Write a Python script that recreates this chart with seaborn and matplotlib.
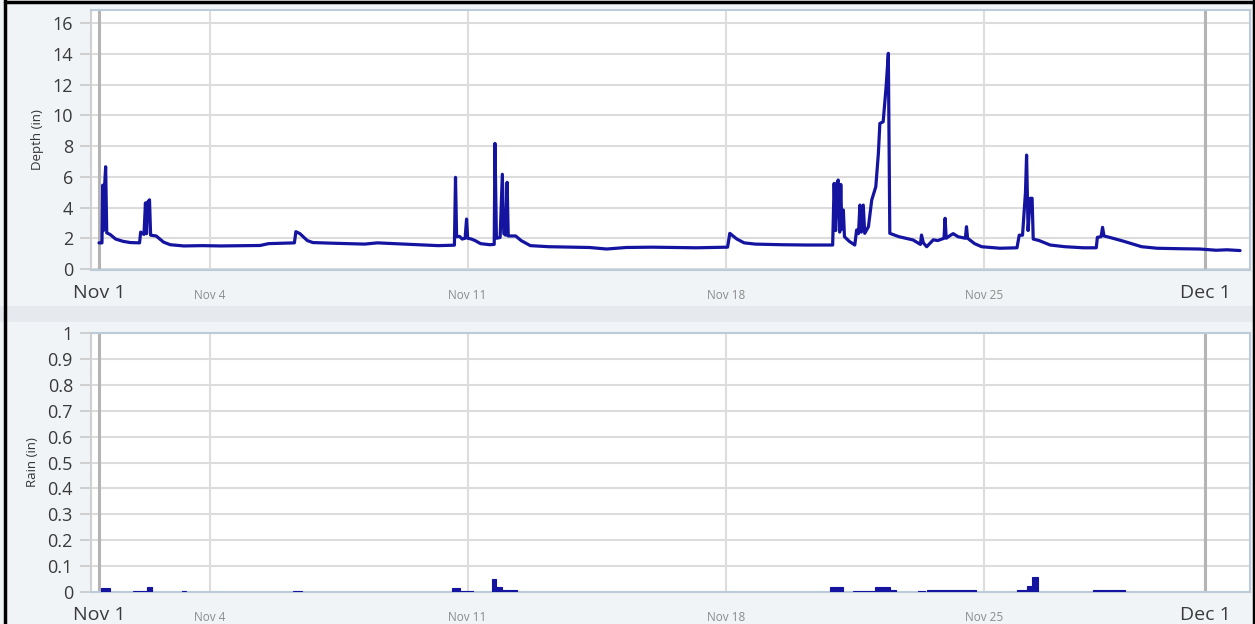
import matplotlib
matplotlib.use('Agg')
import matplotlib.pyplot as plt
import seaborn as sns
import pandas as pd
from matplotlib.patches import Rectangle
from matplotlib.lines import Line2D

# depth record, days since Nov 1 and depth in inches
depth_day = [0.00, 0.08, 0.10, 0.12, 0.15, 0.18, 0.21, 0.30, 0.45, 0.65, 0.85, 1.10, 1.13, 1.22,
             1.26, 1.29, 1.32, 1.37, 1.40, 1.55, 1.75, 1.93, 2.3, 2.8, 3.3, 3.9, 4.37, 4.6, 5.0,
             5.30, 5.34, 5.45, 5.65, 5.80, 6.3, 6.8, 7.2, 7.55, 8.0, 8.6, 9.2, 9.64, 9.67, 9.70,
             9.78, 9.85, 9.93, 9.97, 10.00, 10.1, 10.2, 10.35, 10.6, 10.72, 10.74, 10.78, 10.88,
             10.94, 10.98, 11.03, 11.07, 11.10, 11.3, 11.45, 11.7, 12.2, 12.8, 13.3, 13.77, 14.3,
             15.0, 15.6, 16.2, 17.05, 17.11, 17.3, 17.5, 17.8, 18.5, 19.2, 19.9, 19.94, 19.98,
             20.02, 20.05, 20.09, 20.12, 20.15, 20.19, 20.22, 20.35, 20.5, 20.55, 20.60, 20.64,
             20.68, 20.73, 20.77, 20.87, 20.96, 21.07, 21.14, 21.18, 21.27, 21.35, 21.41, 21.45,
             21.7, 22.08, 22.28, 22.31, 22.36, 22.45, 22.63, 22.75, 22.92, 22.95, 22.98, 23.10,
             23.17, 23.30, 23.50, 23.53, 23.56, 23.75, 23.94, 24.44, 24.9, 24.96, 25.05, 25.10,
             25.13, 25.16, 25.20, 25.26, 25.31, 25.34, 25.5, 25.8, 26.2, 26.7, 27.05, 27.08, 27.18,
             27.22, 27.26, 27.5, 27.8, 28.28, 28.7, 29.3, 29.86, 30.3, 30.6, 30.95]
depth_in = [1.70, 1.70, 5.45, 2.50, 5.30, 6.65, 2.35, 2.25, 1.95, 1.80, 1.72, 1.70, 2.40, 2.25,
            4.30, 2.30, 4.35, 4.50, 2.20, 2.15, 1.75, 1.58, 1.50, 1.52, 1.50, 1.52, 1.53, 1.65, 1.68,
            1.70, 2.43, 2.30, 1.85, 1.72, 1.68, 1.65, 1.62, 1.70, 1.65, 1.58, 1.52, 1.55, 5.96, 2.10,
            2.12, 1.95, 2.00, 3.25, 2.00, 1.95, 1.85, 1.65, 1.58, 1.60, 8.17, 2.00, 2.05,
            6.16, 2.30, 2.20, 5.64, 2.15, 2.15, 1.85, 1.52, 1.45, 1.42, 1.40, 1.30, 1.40,
            1.42, 1.40, 1.38, 1.42, 2.32, 1.95, 1.70, 1.62, 1.58, 1.56, 1.56, 5.57, 2.50,
            5.60, 5.79, 2.40, 5.50, 2.60, 3.84, 2.10, 1.80, 1.56, 2.54, 2.30, 4.16,
            2.40, 4.16, 2.32, 2.75, 4.49, 5.35, 7.52, 9.47, 9.58, 11.86, 14.03, 2.32,
            2.10, 1.89, 1.60, 2.21, 1.70, 1.45, 1.90, 1.85, 2.00, 3.30, 2.00, 2.20,
            2.30, 2.10, 2.00, 2.75, 2.00, 1.65, 1.45, 1.35, 1.38, 2.20, 2.20, 4.00,
            5.00, 7.41, 2.50, 4.60, 4.60, 1.95, 1.85, 1.56, 1.45, 1.38, 1.38, 2.06, 2.10,
            2.71, 2.15, 2.00, 1.80, 1.45, 1.35, 1.32, 1.30, 1.22, 1.25, 1.20]

# rain totals, start/end in days since Nov 1
rain_start = [0.05, 0.92, 1.29, 2.24, 5.26, 9.57, 9.79, 10.65, 10.78, 10.93, 19.83, 20.46, 21.05,
              21.45, 22.22, 22.46, 24.89, 25.16, 25.30, 26.97]
rain_end = [0.31, 1.29, 1.43, 2.37, 5.51, 9.79, 10.14, 10.78, 10.93, 11.33, 20.19, 21.05, 21.45,
            21.63, 22.40, 23.80, 25.16, 25.30, 25.48, 27.83]
rain_in = [0.017, 0.005, 0.018, 0.005, 0.005, 0.015, 0.005, 0.049, 0.018, 0.006, 0.019, 0.005,
           0.019, 0.006, 0.005, 0.006, 0.007, 0.025, 0.059, 0.006]

major_pos = [0, 30]
major_labels = ['Nov 1', 'Dec 1']
minor_pos = [3, 10, 17, 24]
minor_labels = ['Nov 4', 'Nov 11', 'Nov 18', 'Nov 25']

depth_ticks = list(range(0, 17, 2))
rain_ticks = [0, 0.1, 0.2, 0.3, 0.4, 0.5, 0.6, 0.7, 0.8, 0.9, 1]
rain_tick_labels = ['0', '0.1', '0.2', '0.3', '0.4', '0.5', '0.6', '0.7', '0.8', '0.9', '1']

blue = '#1414a0'

sns.set_style('white')
plt.rcParams['font.family'] = ['Open Sans', 'DejaVu Sans']

fig = plt.figure(figsize=(12.55, 6.24), dpi=100, facecolor='#f1f4f7')
W, H = 1255, 624

# soft band separating the two panels
fig.patches.append(Rectangle((0, 1 - 322 / H), 1, 16 / H, transform=fig.transFigure,
                             facecolor='#e6eaee', edgecolor='none', zorder=0))

ax1 = fig.add_axes([91 / W, 1 - 270 / H, (1250 - 91) / W, 260 / H])
ax2 = fig.add_axes([91 / W, 1 - 592 / H, (1250 - 91) / W, 259 / H])

df = pd.DataFrame({'day': depth_day, 'depth': depth_in})
sns.lineplot(data=df, x='day', y='depth', ax=ax1, color=blue, linewidth=2.3,
             estimator=None, sort=False, zorder=5)

widths = [e - s for s, e in zip(rain_start, rain_end)]
ax2.bar(rain_start, rain_in, width=widths, align='edge', color=blue, edgecolor=blue,
        linewidth=0.8, zorder=5)

x_left = -0.217
x_right = 31.22
ax1.set_xlim(x_left, x_right)
ax2.set_xlim(x_left, x_right)
ax1.set_ylim(-0.065, 16.85)
ax2.set_ylim(0, 1)

for ax, yt in ((ax1, depth_ticks), (ax2, rain_ticks)):
    ax.set_facecolor('white')
    ax.set_yticks(yt)
    for y in yt:
        ax.axhline(y, color='#dcdcdc', linewidth=1.5, zorder=1)
    for x in minor_pos:
        ax.axvline(x, color='#dddddd', linewidth=1.5, zorder=1)
    for x in major_pos:
        ax.axvline(x, color='#b4b4b4', linewidth=2.2, zorder=1)
    ax.set_xticks(major_pos)
    ax.set_xticklabels(major_labels)
    ax.set_xticks(minor_pos, minor=True)
    ax.set_xticklabels(minor_labels, minor=True)
    ax.tick_params(axis='x', which='major', length=6, width=2.2, color='#b4b4b4',
                   labelsize=14, labelcolor='#3a3a3a', pad=4)
    ax.tick_params(axis='x', which='minor', length=6, width=1.5, color='#dddddd',
                   labelsize=8.5, labelcolor='#8a8a8a', pad=8)
    ax.tick_params(axis='y', length=8, width=1.3, color='#cccccc', left=True,
                   labelsize=13, labelcolor='#3a3a3a', pad=5)
    for side in ('top', 'right', 'bottom'):
        ax.spines[side].set_visible(True)
        ax.spines[side].set_color('#bccbd9')
        ax.spines[side].set_linewidth(1.5)
    ax.spines['left'].set_color('#d0d0d0')
    ax.spines['left'].set_linewidth(1.5)
    ax.set_xlabel('')

ax2.set_yticklabels(rain_tick_labels)
ax1.set_ylabel('Depth (in)', fontsize=9.5, color='#333333', labelpad=6)
ax2.set_ylabel('Rain (in)', fontsize=9.5, color='#333333', labelpad=6)

# black frame around the picture
for xs, ys in (([5, 5], [0, H]), ([5, 1254], [1.5, 1.5]), ([1253.5, 1253.5], [0, H])):
    fig.add_artist(Line2D([x / W for x in xs], [1 - y / H for y in ys],
                          transform=fig.transFigure, color='black', linewidth=2.5))

fig.savefig('out.png', dpi=100, facecolor=fig.get_facecolor())
